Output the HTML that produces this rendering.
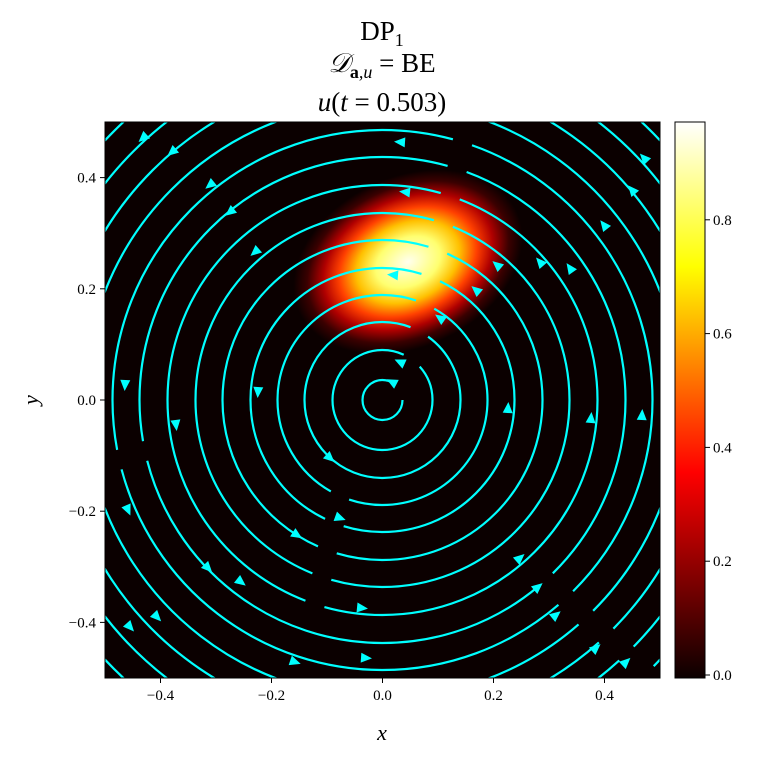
<!DOCTYPE html>
<html><head><meta charset="utf-8"><style>
html,body{margin:0;background:#fff;width:759px;height:760px;overflow:hidden;}
svg{display:block;font-family:"Liberation Serif",serif;}
</style></head><body>
<svg id="s" width="759" height="760" viewBox="0 0 759 760">
<defs>
<radialGradient id="blob" cx="408" cy="262" r="100" gradientUnits="userSpaceOnUse" gradientTransform="rotate(-25 408 262) translate(408 262) scale(1.2 0.85) translate(-408 -262)">
<stop offset="0" stop-color="#ffffee"/>
<stop offset="0.28" stop-color="#ffff70"/>
<stop offset="0.45" stop-color="#ffc000"/>
<stop offset="0.6" stop-color="#ff4000"/>
<stop offset="0.74" stop-color="#b00000"/>
<stop offset="0.88" stop-color="#3a0000"/>
<stop offset="1" stop-color="#0b0000"/>
</radialGradient>
<linearGradient id="cb" x1="0" y1="1" x2="0" y2="0">
<stop offset="0" stop-color="#0b0000"/>
<stop offset="0.37" stop-color="#ff0000"/>
<stop offset="0.74" stop-color="#ffff00"/>
<stop offset="1" stop-color="#ffffff"/>
</linearGradient>
<clipPath id="c"><rect x="105" y="122" width="555" height="556"/></clipPath>
</defs>
<text x="382" y="40" font-size="27" text-anchor="middle">DP<tspan font-size="18" dy="6">1</tspan></text>
<text x="382" y="72" font-size="27" text-anchor="middle"><tspan font-style="italic">𝒟</tspan><tspan font-size="18" dy="6" font-weight="bold">a</tspan><tspan font-size="18" font-style="italic">,u</tspan><tspan dy="-6"> = BE</tspan></text>
<text x="382" y="111" font-size="27" text-anchor="middle"><tspan font-style="italic">u</tspan>(<tspan font-style="italic">t</tspan> = 0.503)</text>
<rect x="105" y="122" width="555" height="556" fill="#0b0000"/>
<g clip-path="url(#c)">
<rect x="105" y="122" width="555" height="556" fill="url(#blob)"/>
<g id="circ" fill="none" stroke="#00ffff" stroke-width="2.2"></g>
<g id="arr" fill="#00ffff"></g>
</g>
<rect x="675" y="122" width="30" height="556" fill="url(#cb)" stroke="#000" stroke-width="1"/>
<g id="ax" font-size="15"></g>
<text x="382" y="740" font-size="22" font-style="italic" text-anchor="middle">x</text>
<text x="38" y="400" font-size="22" font-style="italic" text-anchor="middle" transform="rotate(-90 38 400)">y</text>
<rect x="105" y="122" width="555" height="556" fill="none" stroke="#000" stroke-width="1"/>
</svg>
<script>
var NS="http://www.w3.org/2000/svg",cx=382.5,cy=400;
function el(p,t,a,txt){var e=document.createElementNS(NS,t);for(var k in a)e.setAttribute(k,a[k]);if(txt!=null)e.textContent=txt;p.appendChild(e);return e;}
var g=document.getElementById('circ');
[20,50,78,105,132,160,187,215,243,270,298,325,352,380,408,436].forEach(function(r,i){
 var circ=2*Math.PI*r, d=circ/ (i<3?1:(i<8?2:3));
 el(g,'circle',{cx:cx,cy:cy,r:r,'stroke-dasharray':(d-20)+' 20','stroke-dashoffset':i*37});
});
var a=document.getElementById('arr');
[[400,142],[172,152],[405,192],[255,252],[393,275],[440,318],[400,362],[392,382],[125,385],[258,392],[176,425],[508,408],[591,418],[642,415],[128,510],[330,458],[340,518],[297,535],[241,582],[208,568],[362,608],[366,658],[295,662],[130,627],[157,617],[520,558],[538,587],[556,615],[596,648],[626,662],[570,268],[540,262],[497,265],[476,290],[604,225],[632,190],[644,158],[143,138],[210,185],[230,212]].forEach(function(p){
 var dx=p[0]-cx,dy=p[1]-cy,ang=Math.atan2(-dx,dy)*180/Math.PI;
 el(a,'polygon',{points:'6,0 -5,-5 -5,5',transform:'translate('+p[0]+','+p[1]+') rotate('+ang+')'});
});
var ax=document.getElementById('ax');
[-0.4,-0.2,0,0.2,0.4].forEach(function(v){
 var x=cx+v*555,y=cy-v*556,l=(v<0?'\u2212':'')+Math.abs(v).toFixed(1);
 el(ax,'line',{x1:x,y1:678,x2:x,y2:683,stroke:'#000'});
 el(ax,'text',{x:x,y:700,'text-anchor':'middle'},l);
 el(ax,'line',{x1:100,y1:y,x2:105,y2:y,stroke:'#000'});
 el(ax,'text',{x:96,y:y+5,'text-anchor':'end'},l);
});
[0,0.2,0.4,0.6,0.8].forEach(function(v){
 var y=675-v*569;
 el(ax,'line',{x1:705,y1:y,x2:710,y2:y,stroke:'#000'});
 el(ax,'text',{x:713,y:y+5},v.toFixed(1));
});
</script>
</body></html>
